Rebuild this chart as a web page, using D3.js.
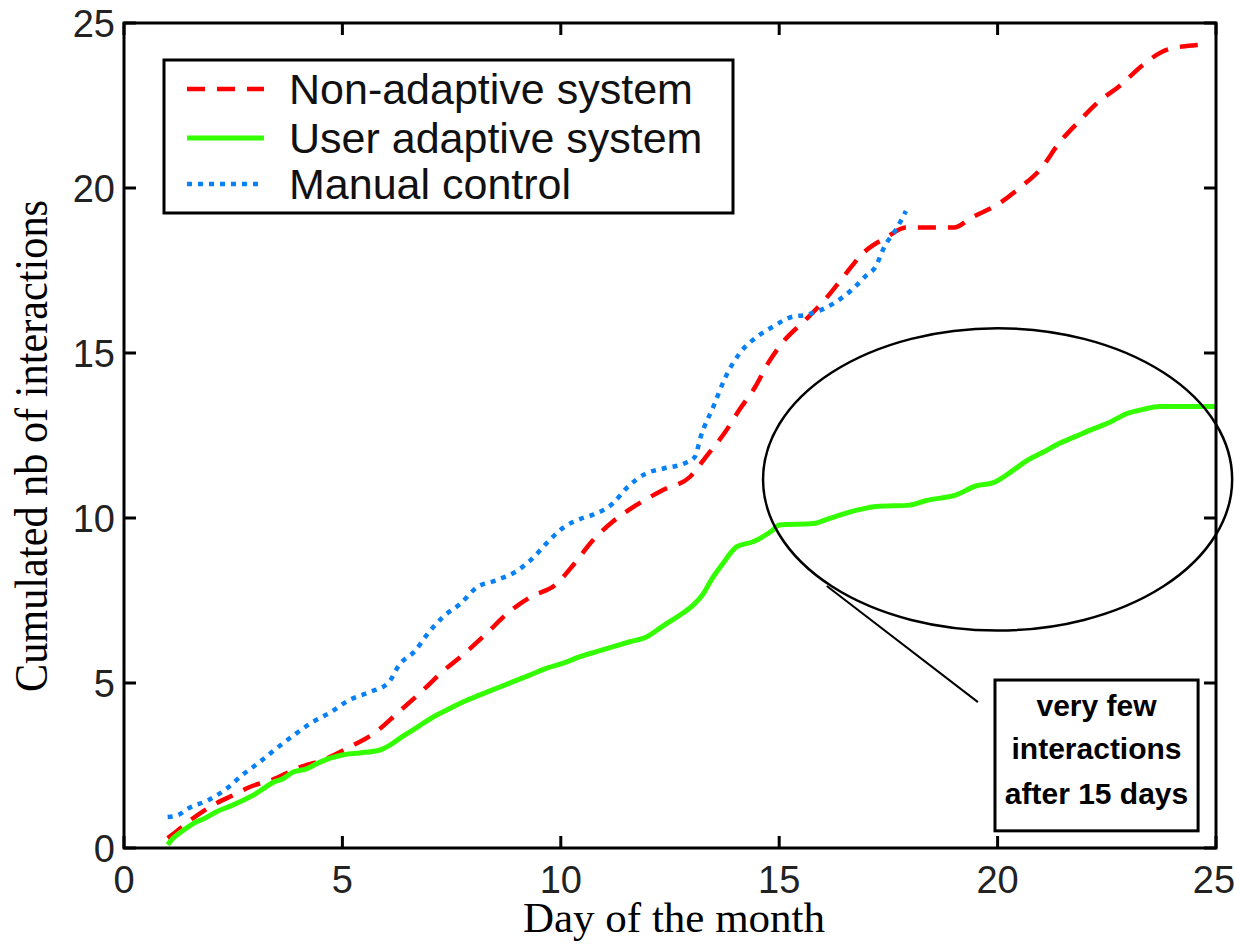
<!DOCTYPE html>
<html lang="en">
<head>
<meta charset="UTF-8">
<title>Cumulated interactions</title>
<script src="https://d3js.org/d3.v7.min.js"></script>
<style>
    body { margin: 0; background: white; }
    .tick-label { font-family: "Liberation Sans", Arial, sans-serif; font-size: 38px; fill: #222; }
    .axis-title { font-family: "Liberation Serif", "Times New Roman", serif; fill: #000; }
    .legend-text { font-family: "Liberation Sans", Arial, sans-serif; font-size: 43px; fill: #111; }
    .note-text { font-family: "Liberation Sans", Arial, sans-serif; font-size: 30px; font-weight: bold; fill: #000; }
</style>
</head>
<body>
<div id="chart"></div>
<script>
    // [day, cumulated interactions]
    var nonAdaptive = [[1.0,0.3],[1.2,0.5],[1.58,0.9],[2.12,1.36],[2.5,1.6],[2.88,1.85],[3.38,2.06],[4.03,2.45],
        [4.56,2.67],[5.17,3.06],[5.75,3.5],[6.27,4.1],[6.78,4.7],[7.28,5.33],[7.8,5.9],[8.3,6.5],[8.77,7.1],
        [9.3,7.6],[9.9,8.0],[10.3,8.6],[10.74,9.33],[11.2,9.9],[11.74,10.4],[12.34,10.85],[12.96,11.25],
        [13.35,11.9],[13.76,12.6],[14.1,13.3],[14.45,13.97],[14.75,14.7],[15.13,15.4],[15.6,16.0],[16.1,16.7],
        [16.5,17.36],[16.9,18.0],[17.45,18.5],[17.9,18.8],[19.0,18.8],[19.4,19.1],[20.0,19.5],[20.5,20.0],
        [21.0,20.6],[21.4,21.35],[21.85,22.0],[22.3,22.6],[22.8,23.1],[23.3,23.7],[23.9,24.2],[24.56,24.33],
        [24.75,24.35]];

    var userAdaptive = [[1.0,0.1],[1.13,0.3],[1.28,0.46],[1.47,0.64],[1.67,0.8],[1.85,0.9],[2.12,1.1],[2.43,1.27],
        [2.73,1.45],[2.96,1.6],[3.19,1.8],[3.4,1.98],[3.64,2.1],[3.87,2.3],[4.18,2.4],[4.41,2.55],[4.72,2.72],
        [5.0,2.82],[5.4,2.88],[5.86,2.97],[6.09,3.12],[6.32,3.33],[6.62,3.58],[6.85,3.78],[7.16,4.03],[7.39,4.18],
        [7.77,4.43],[8.15,4.64],[8.53,4.84],[8.91,5.04],[9.29,5.24],[9.68,5.45],[10.06,5.6],[10.44,5.8],
        [10.82,5.95],[11.2,6.1],[11.58,6.25],[11.97,6.4],[12.2,6.6],[12.42,6.8],[12.73,7.06],[13.03,7.36],
        [13.26,7.7],[13.42,8.07],[13.7,8.6],[14.03,9.13],[14.4,9.28],[14.86,9.64],[15.0,9.79],[15.78,9.83],
        [16.16,9.99],[16.85,10.26],[17.23,10.35],[17.99,10.39],[18.37,10.53],[19.05,10.7],[19.5,10.97],
        [19.9,11.07],[20.36,11.45],[20.66,11.73],[21.05,12.0],[21.43,12.27],[21.8,12.48],[22.19,12.7],
        [22.57,12.9],[22.95,13.16],[23.33,13.29],[23.7,13.38],[25.0,13.38]];

    var manualControl = [[1.0,0.94],[1.24,1.0],[1.47,1.2],[1.93,1.45],[2.35,1.8],[2.7,2.2],[3.1,2.6],[3.5,3.03],
        [3.87,3.4],[4.3,3.8],[4.74,4.12],[5.15,4.48],[5.63,4.73],[6.05,5.0],[6.3,5.55],[6.66,5.97],[6.96,6.5],
        [7.3,7.0],[7.7,7.4],[8.08,7.9],[8.5,8.1],[9.0,8.4],[9.37,8.8],[9.7,9.27],[10.05,9.7],[10.5,10.0],
        [10.74,10.1],[11.2,10.45],[11.5,10.9],[11.97,11.36],[12.35,11.5],[12.84,11.66],[13.07,11.85],
        [13.2,12.45],[13.5,13.4],[13.76,14.24],[14.1,15.0],[14.5,15.5],[14.86,15.8],[15.3,16.1],[15.6,16.15],
        [16.05,16.36],[16.3,16.55],[16.7,16.96],[17.0,17.36],[17.2,17.6],[17.4,18.2],[17.7,18.8],[17.9,19.3]];

    var seriesNames = ["Non-adaptive system", "User adaptive system", "Manual control"];
    var xTicks = [0, 5, 10, 15, 20, 25];
    var yTicks = [0, 5, 10, 15, 20, 25];
    var noteLines = ["very few", "interactions", "after 15 days"];

    var w = 1234, h = 944;
    var plotLeft = 124, plotRight = 1216, plotTop = 23, plotBottom = 848;

    var xScale = d3.scaleLinear().domain([0, 25]).range([plotLeft, plotRight]);
    var yScale = d3.scaleLinear().domain([0, 25]).range([plotBottom, plotTop]);

    var svg = d3.select("#chart").append("svg")
        .attr("width", w).attr("height", h);

    var styles = [
        { color: "#ff0000", width: 4.5, dash: "18,12" },
        { color: "#33ff00", width: 5, dash: null },
        { color: "#0a80f5", width: 4.5, dash: "5,6" }
    ];

    var line = d3.line()
        .x(function(d) { return xScale(d[0]); })
        .y(function(d) { return yScale(d[1]); })
        .curve(d3.curveMonotoneX);

    [nonAdaptive, userAdaptive, manualControl].forEach(function(data, i) {
        svg.append("path")
           .datum(data)
           .attr("d", line)
           .attr("fill", "none")
           .attr("stroke", styles[i].color)
           .attr("stroke-width", styles[i].width)
           .attr("stroke-dasharray", styles[i].dash);
    });

    // frame and inward ticks on all four sides
    svg.append("rect")
       .attr("x", plotLeft).attr("y", plotTop)
       .attr("width", plotRight - plotLeft).attr("height", plotBottom - plotTop)
       .attr("fill", "none").attr("stroke", "#000").attr("stroke-width", 3);

    var tickLen = 12;
    xTicks.forEach(function(t) {
        svg.append("line").attr("x1", xScale(t)).attr("x2", xScale(t))
           .attr("y1", plotBottom).attr("y2", plotBottom - tickLen)
           .attr("stroke", "#000").attr("stroke-width", 3);
        svg.append("line").attr("x1", xScale(t)).attr("x2", xScale(t))
           .attr("y1", plotTop).attr("y2", plotTop + tickLen)
           .attr("stroke", "#000").attr("stroke-width", 3);
        // keep the last label inside the page, as in the original
        var lx = Math.min(xScale(t), w - 20);
        svg.append("text").attr("class", "tick-label")
           .attr("x", lx).attr("y", 893)
           .attr("text-anchor", "middle")
           .text(t);
    });
    yTicks.forEach(function(t) {
        svg.append("line").attr("x1", plotLeft).attr("x2", plotLeft + tickLen)
           .attr("y1", yScale(t)).attr("y2", yScale(t))
           .attr("stroke", "#000").attr("stroke-width", 3);
        svg.append("line").attr("x1", plotRight).attr("x2", plotRight - tickLen)
           .attr("y1", yScale(t)).attr("y2", yScale(t))
           .attr("stroke", "#000").attr("stroke-width", 3);
        svg.append("text").attr("class", "tick-label")
           .attr("x", 115).attr("y", yScale(t) + 14)
           .attr("text-anchor", "end")
           .text(t);
    });

    // axis titles
    svg.append("text").attr("class", "axis-title")
       .attr("x", 674).attr("y", 932)
       .attr("text-anchor", "middle")
       .attr("font-size", 43)
       .text("Day of the month");

    svg.append("text").attr("class", "axis-title")
       .attr("transform", "translate(47,446) rotate(-90)")
       .attr("text-anchor", "middle")
       .attr("font-size", 46)
       .attr("textLength", 492)
       .attr("lengthAdjust", "spacingAndGlyphs")
       .text("Cumulated nb of interactions");

    // legend
    svg.append("rect")
       .attr("x", 164).attr("y", 60).attr("width", 569).attr("height", 153)
       .attr("fill", "white").attr("stroke", "#000").attr("stroke-width", 3);

    var legendY = [89, 138, 184];
    seriesNames.forEach(function(name, i) {
        svg.append("line")
           .attr("x1", 187).attr("x2", 264)
           .attr("y1", legendY[i]).attr("y2", legendY[i])
           .attr("stroke", styles[i].color)
           .attr("stroke-width", styles[i].width)
           .attr("stroke-dasharray", styles[i].dash);
        svg.append("text").attr("class", "legend-text")
           .attr("x", 289).attr("y", legendY[i] + 15)
           .text(name);
    });

    // annotation: ellipse, pointer and note box
    svg.append("ellipse")
       .attr("cx", xScale(20.0)).attr("cy", yScale(11.17))
       .attr("rx", xScale(5.37) - xScale(0))
       .attr("ry", yScale(0) - yScale(4.58))
       .attr("fill", "none").attr("stroke", "#000").attr("stroke-width", 2.5);

    svg.append("line")
       .attr("x1", xScale(16.09)).attr("y1", yScale(7.94))
       .attr("x2", xScale(19.55)).attr("y2", yScale(4.42))
       .attr("stroke", "#000").attr("stroke-width", 2);

    svg.append("rect")
       .attr("x", xScale(19.94)).attr("y", yScale(5.09))
       .attr("width", xScale(24.59) - xScale(19.94))
       .attr("height", yScale(0.52) - yScale(5.09))
       .attr("fill", "white").attr("stroke", "#000").attr("stroke-width", 3);

    var noteBase = [716, 759, 804];
    noteLines.forEach(function(s, i) {
        svg.append("text").attr("class", "note-text")
           .attr("x", (xScale(19.94) + xScale(24.59)) / 2)
           .attr("y", noteBase[i])
           .attr("text-anchor", "middle")
           .text(s);
    });
</script>
</body>
</html>
